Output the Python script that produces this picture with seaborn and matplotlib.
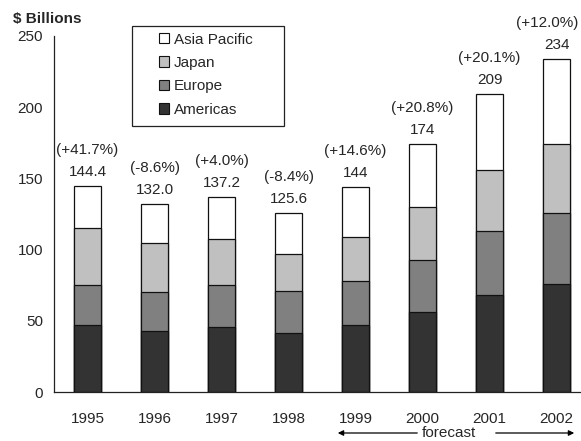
import numpy as np
import pandas as pd
import seaborn as sns
import matplotlib.pyplot as plt
from matplotlib.patches import Patch, Rectangle

sns.set_style('white')
plt.rcParams['font.family'] = ['Liberation Sans', 'DejaVu Sans']
plt.rcParams['font.size'] = 11

# data
years = ['1995', '1996', '1997', '1998', '1999', '2000', '2001', '2002']
americas = [47.2, 43.0, 45.8, 41.5, 47.2, 56.0, 68.2, 75.9]
europe = [28.0, 27.0, 29.4, 29.3, 31.0, 36.9, 44.8, 50.1]
japan = [39.8, 34.4, 32.0, 25.9, 30.6, 37.1, 43.0, 48.0]
asia_pacific = [29.4, 27.6, 30.0, 28.9, 35.2, 44.0, 53.0, 60.0]
total_labels = ['144.4', '132.0', '137.2', '125.6', '144', '174', '209', '234']
growth_labels = ['(+41.7%)', '(-8.6%)', '(+4.0%)', '(-8.4%)', '(+14.6%)', '(+20.8%)', '(+20.1%)', '(+12.0%)']

series = ['Americas', 'Europe', 'Japan', 'Asia Pacific']
colors = {'Americas': '#333333', 'Europe': '#808080', 'Japan': '#c0c0c0', 'Asia Pacific': '#ffffff'}

df = pd.DataFrame({'year': years, 'Americas': americas, 'Europe': europe,
                   'Japan': japan, 'Asia Pacific': asia_pacific})
cum = df[series].cumsum(axis=1)
cum['year'] = df['year']

fig = plt.figure(figsize=(5.81, 4.41), dpi=100)
ax = fig.add_axes([54 / 581, 48.7 / 441, 526 / 581, 356.5 / 441])

# stacked bars: draw cumulative heights, top layer first
for s in series[::-1]:
    sns.barplot(data=cum, x='year', y=s, color=colors[s], width=0.4,
                edgecolor='#111111', linewidth=0.9, saturation=1, ax=ax)

ax.set_ylim(0, 250)
ax.set_xlim(-0.5, 7.35)
ax.set_yticks(range(0, 251, 50))
ax.set_xlabel('')
ax.set_ylabel('')
for sp in ['top', 'right']:
    ax.spines[sp].set_visible(False)
for sp in ['left', 'bottom']:
    ax.spines[sp].set_color('#222222')
    ax.spines[sp].set_linewidth(0.9)

ax.set_xticks(np.arange(-0.5, 7.5, 1), minor=True)
ax.tick_params(axis='x', which='major', length=0, pad=14, labelsize=11)
ax.tick_params(axis='x', which='minor', length=5, width=0.9, color='#222222', direction='out')
ax.tick_params(axis='y', length=5, width=0.9, color='#222222', direction='out', pad=3, labelsize=11)

tops = cum['Asia Pacific'].values
for i in range(len(years)):
    dx = -9 if i == len(years) - 1 else 0
    ax.annotate(total_labels[i], (i, tops[i]), xytext=(0, 14), textcoords='offset pixels',
                ha='center', va='center', fontsize=11)
    ax.annotate(growth_labels[i], (i, tops[i]), xytext=(dx, 36), textcoords='offset pixels',
                ha='center', va='center', fontsize=11)

fig.text(13 / 581, 1 - 19 / 441, '$ Billions', fontweight='bold', fontsize=11,
         ha='left', va='center')

# legend box
fig.patches.append(Rectangle((131.7 / 581, 1 - 125.7 / 441), 152.3 / 581, 100 / 441,
                             transform=fig.transFigure, facecolor='white',
                             edgecolor='#222222', linewidth=0.9, zorder=3))
handles = [Patch(facecolor=colors[s], edgecolor='#111111', linewidth=0.8, label=s)
           for s in series[::-1]]
leg = fig.legend(handles=handles, loc='upper left', bbox_to_anchor=(159 / 581, 1 - 32.5 / 441),
                 frameon=False, handlelength=0.68, handleheight=0.68, handletextpad=0.3,
                 labelspacing=0.62, borderpad=0, borderaxespad=0, fontsize=11)
leg.set_zorder(4)

# forecast marker
fig.text(449 / 581, 1 - 433 / 441, 'forecast', ha='center', va='center', fontsize=11)
ax.annotate('', xy=(335 / 581, 1 - 433 / 441), xytext=(420 / 581, 1 - 433 / 441),
            xycoords='figure fraction',
            arrowprops=dict(arrowstyle='-|>', color='black', lw=0.9, mutation_scale=8))
ax.annotate('', xy=(577 / 581, 1 - 433 / 441), xytext=(493 / 581, 1 - 433 / 441),
            xycoords='figure fraction',
            arrowprops=dict(arrowstyle='-|>', color='black', lw=0.9, mutation_scale=8))

fig.savefig('out.png', dpi=100)
